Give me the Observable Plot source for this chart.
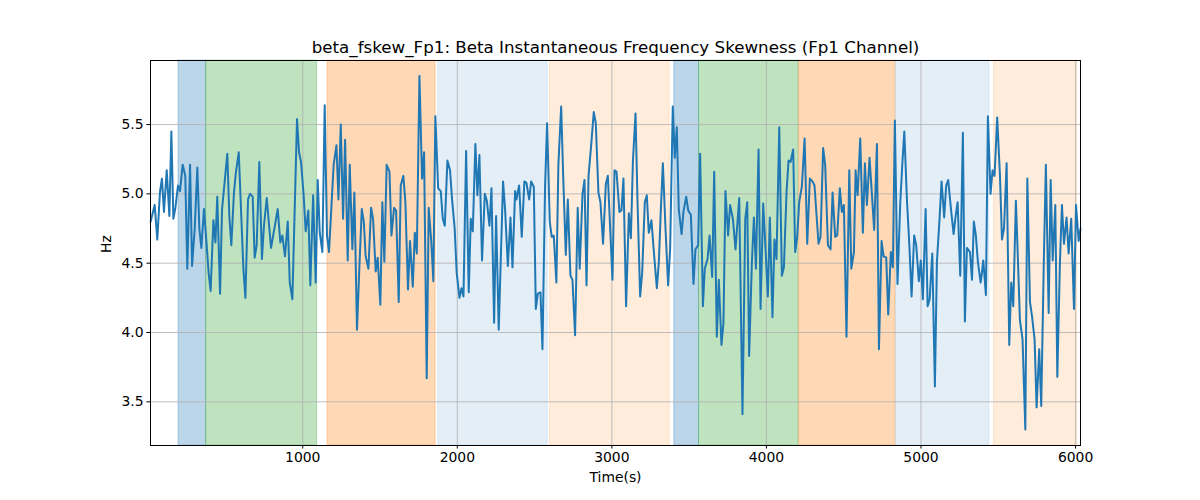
<!DOCTYPE html>
<html>
<head>
<meta charset="utf-8">
<script src="https://cdn.jsdelivr.net/npm/d3@7"></script>
<script src="https://cdn.jsdelivr.net/npm/@observablehq/plot@0.6"></script>
<style>
  html, body { margin: 0; padding: 0; background: white; }
</style>
</head>
<body>
<div id="chart"></div>
<script>
const titleText = "beta_fskew_Fp1: Beta Instantaneous Frequency Skewness (Fp1 Channel)";
const xLabel = "Time(s)";
const yLabel = "Hz";
const xDomain = [15, 6032];
const yDomain = [3.185, 5.962];
const xTicks = [1000, 2000, 3000, 4000, 5000, 6000];
const yTicks = [3.5, 4.0, 4.5, 5.0, 5.5];

const times = [
16,42,59,76,89,102,120,137,150,163,176,193,206,223,240,253,271,284,301,318,331,344,361,374,391,404,422,435,447,465,478,495,512,525,538,555,568,586,603,616,629,646,659,676,689,702,719,736,749,767,
795,838,855,868,885,903,916,933,963,976,989,1006,1019,1036,1049,1067,1084,1097,1110,1127,1142,1157,1170,1187,1200,1218,1231,1246,1261,1274,1291,1304,1321,1334,1351,1366,1382,1395,1407,1425,1442,1455,1472,1485,1502,1515,1528,
1543,1561,1574,1591,1604,1621,1634,1651,1664,1681,1694,1712,1725,1738,1755,1772,1785,1802,1815,1832,1845,1858,1876,1893,1906,1919,1936,1953,1966,1983,1996,2014,2027,2040,2057,2074,2087,2100,2117,2130,2143,2160,2178,2191,2208,2221,2238,2251,2268,
2296,2309,2327,2344,2357,2374,2383,2391,2400,2417,2434,2447,2465,2478,2495,2508,2521,2538,2551,2568,2581,2598,2611,2624,2641,2654,2672,2685,2702,2715,2732,2745,2762,2779,2792,2810,2823,2836,2849,2866,2883,2896,2913,2926,2943,2961,2974,2987,3004,3017,3030,
3049,3062,3075,3092,3110,3123,3136,3153,3166,3183,3196,3213,3226,3239,3256,3274,3291,3304,3317,3330,3347,3364,3377,3394,3407,3420,3433,3451,3463,3481,3494,3511,3528,3541,3558,3571,3589,3601,3619,3632,3649,3662,3679,3692,3709,3722,3735,3752,3765,3783,3800,
3824,3845,3863,3876,3888,3906,3919,3932,3949,3962,3979,3992,4009,4022,4039,4052,4065,4083,4100,4113,4130,4143,4156,4173,4186,4199,4212,4229,4247,4264,4281,4298,4311,4337,4350,4367,4380,4398,4415,4428,4445,4458,4475,4488,4501,4518,4536,4549,4566,
4577,4590,4607,4624,4637,4650,4667,4680,4697,4715,4728,4745,4758,4775,4788,4805,4818,4831,4848,4866,4879,4892,4909,4926,4939,4956,4969,4986,4999,5012,5030,5043,5056,5073,5090,5103,5120,5133,5150,5163,5176,5194,5211,5224,5237,5254,5271,5284,5297,
5317,5330,5342,5355,5368,5386,5394,5403,5420,5433,5450,5463,5476,5493,5511,5524,5537,5554,5571,5584,5597,5614,5627,5640,5657,5675,5688,5705,5718,5735,5748,5765,5778,5795,5808,5826,5839,5852,5869,5882,5899,5912,5925,5942,5955,5972,5990,6003,6020,6032
];
const values = [
4.80,4.92,4.67,5.01,5.11,4.87,5.17,4.84,5.45,4.82,4.90,5.06,5.02,5.21,5.13,4.46,5.21,4.48,4.75,5.19,4.75,4.61,4.89,4.70,4.43,4.30,4.81,4.65,4.98,4.28,4.89,5.09,5.29,4.84,4.63,5.01,5.16,5.30,4.82,4.46,4.25,4.96,5.00,4.98,4.54,4.63,5.23,4.53,4.77,4.97,
4.61,4.89,4.65,4.70,4.55,4.80,4.36,4.24,5.54,5.30,5.23,4.99,4.73,4.88,4.34,4.99,4.36,5.10,4.72,4.58,5.64,4.70,4.58,4.94,5.21,5.35,4.96,5.50,4.82,5.39,4.52,5.21,4.60,5.01,4.02,4.46,4.89,4.80,4.55,4.46,4.90,4.82,4.44,4.54,4.20,4.94,4.51,
5.21,5.16,4.70,4.90,4.88,4.22,5.06,5.13,4.94,4.31,4.66,4.33,4.72,4.57,5.85,5.11,5.30,3.67,4.90,4.65,4.37,5.56,5.04,5.02,4.82,4.77,5.24,5.17,4.96,4.75,4.43,4.25,4.32,4.26,5.31,4.29,4.82,4.73,5.36,4.99,5.28,4.52,5.00,4.95,4.77,5.04,4.07,4.84,4.02,
5.09,4.89,4.48,4.83,4.47,5.02,4.96,5.01,5.06,4.69,5.09,5.08,4.96,5.09,5.05,4.17,4.28,4.29,3.88,5.06,5.51,4.80,4.69,4.70,4.36,5.21,5.63,5.13,4.56,4.96,4.41,4.38,3.98,4.90,4.46,5.00,5.10,4.34,5.13,5.35,5.59,5.51,5.01,4.94,4.64,5.07,5.13,4.80,4.38,5.17,5.16,
4.87,4.88,5.11,4.19,4.86,4.68,5.23,5.58,4.94,4.26,4.43,4.94,4.99,4.72,4.81,4.55,4.32,4.51,4.89,5.22,4.75,4.34,4.60,5.63,5.26,5.48,4.89,4.71,4.87,4.98,4.88,4.85,4.35,4.60,4.63,5.29,4.19,4.46,4.53,4.70,4.40,5.16,3.97,4.38,3.91,4.07,5.02,4.70,4.92,4.82,4.60,
4.97,3.41,4.82,4.94,3.83,4.51,4.83,4.46,5.32,4.17,4.93,4.65,4.26,4.83,4.11,4.67,4.53,5.48,4.41,4.47,5.01,5.24,5.23,5.32,4.58,4.69,4.94,5.05,5.40,4.64,5.11,5.09,5.06,4.64,4.69,5.33,5.21,4.63,4.60,5.01,4.69,4.70,5.04,4.87,4.92,3.97,5.17,4.46,4.58,
5.17,4.99,5.40,4.72,5.22,4.92,5.26,5.04,4.74,5.36,3.88,4.66,4.55,4.54,4.13,4.58,4.47,5.53,4.35,4.94,5.21,5.45,4.96,4.60,4.26,4.70,4.63,4.37,4.52,4.24,4.89,4.19,4.24,4.57,3.61,4.51,4.82,5.09,4.83,5.06,5.10,4.89,4.71,4.84,4.94,4.41,5.44,4.08,4.61,
4.58,4.38,4.80,4.70,4.51,4.36,4.43,4.52,4.27,5.56,5.00,5.17,5.13,5.55,5.13,4.67,4.75,5.22,3.91,4.36,4.19,4.95,4.53,4.09,3.95,3.30,5.11,4.22,4.12,3.95,3.46,3.88,3.47,4.53,5.21,4.14,5.10,4.52,4.92,3.68,4.51,4.92,4.64,4.83,4.57,4.82,4.17,4.92,4.66,4.75
];

const bandStart = [196, 375, 1160, 1876, 2600, 3404, 3564, 4212, 4838, 5472];
const bandEnd   = [375, 1093, 1860, 2585, 3374, 3564, 4208, 4834, 5442, 6010];
const bandKind  = ["blue", "green", "orange", "lightblue", "lightorange", "blue", "green", "orange", "lightblue", "lightorange"];

const kindColor = {blue: "#1f77b4", green: "#2ca02c", orange: "#ff7f0e", lightblue: "#1f77b4", lightorange: "#ff7f0e"};
const kindAlpha = {blue: 0.3, green: 0.3, orange: 0.3, lightblue: 0.12, lightorange: 0.15};

const series = times.map((t, i) => ({t, v: values[i]}));
const bands = bandStart.map((s, i) => ({start: s, end: bandEnd[i], kind: bandKind[i]}));

const chart = Plot.plot({
  width: 1200,
  height: 500,
  marginLeft: 150,
  marginRight: 120,
  marginTop: 60,
  marginBottom: 55,
  style: {fontFamily: "DejaVu Sans", fontSize: "13.9px", color: "black", background: "white"},
  x: {domain: xDomain, label: null},
  y: {domain: yDomain, label: null},
  marks: [
    Plot.rect(bands, {x1: "start", x2: "end", fill: d => kindColor[d.kind], fillOpacity: d => kindAlpha[d.kind], stroke: d => kindColor[d.kind], strokeOpacity: d => kindAlpha[d.kind], strokeWidth: 1}),
    Plot.gridX(xTicks, {stroke: "#b0b0b0", strokeOpacity: 1, strokeWidth: 0.8}),
    Plot.gridY(yTicks, {stroke: "#b0b0b0", strokeOpacity: 1, strokeWidth: 0.8}),
    Plot.line(series, {x: "t", y: "v", stroke: "#1f77b4", strokeWidth: 2}),
    Plot.frame({stroke: "black", strokeWidth: 1}),
    Plot.axisX({ticks: xTicks, tickFormat: "d", tickSize: 3.5, tickPadding: 3.5, label: null, fontSize: 13.9}),
    Plot.axisY({ticks: yTicks, tickFormat: ".1f", tickSize: 3.5, tickPadding: 3.5, label: null, fontSize: 13.9}),
    Plot.text([titleText], {frameAnchor: "top", lineAnchor: "bottom", dy: -8, fontSize: 16.7}),
    Plot.text([xLabel], {frameAnchor: "bottom", lineAnchor: "top", dy: 27, fontSize: 13.9}),
    Plot.text([yLabel], {frameAnchor: "left", dx: -44, rotate: -90, fontSize: 13.9})
  ]
});
document.getElementById("chart").appendChild(chart);
</script>
</body>
</html>
